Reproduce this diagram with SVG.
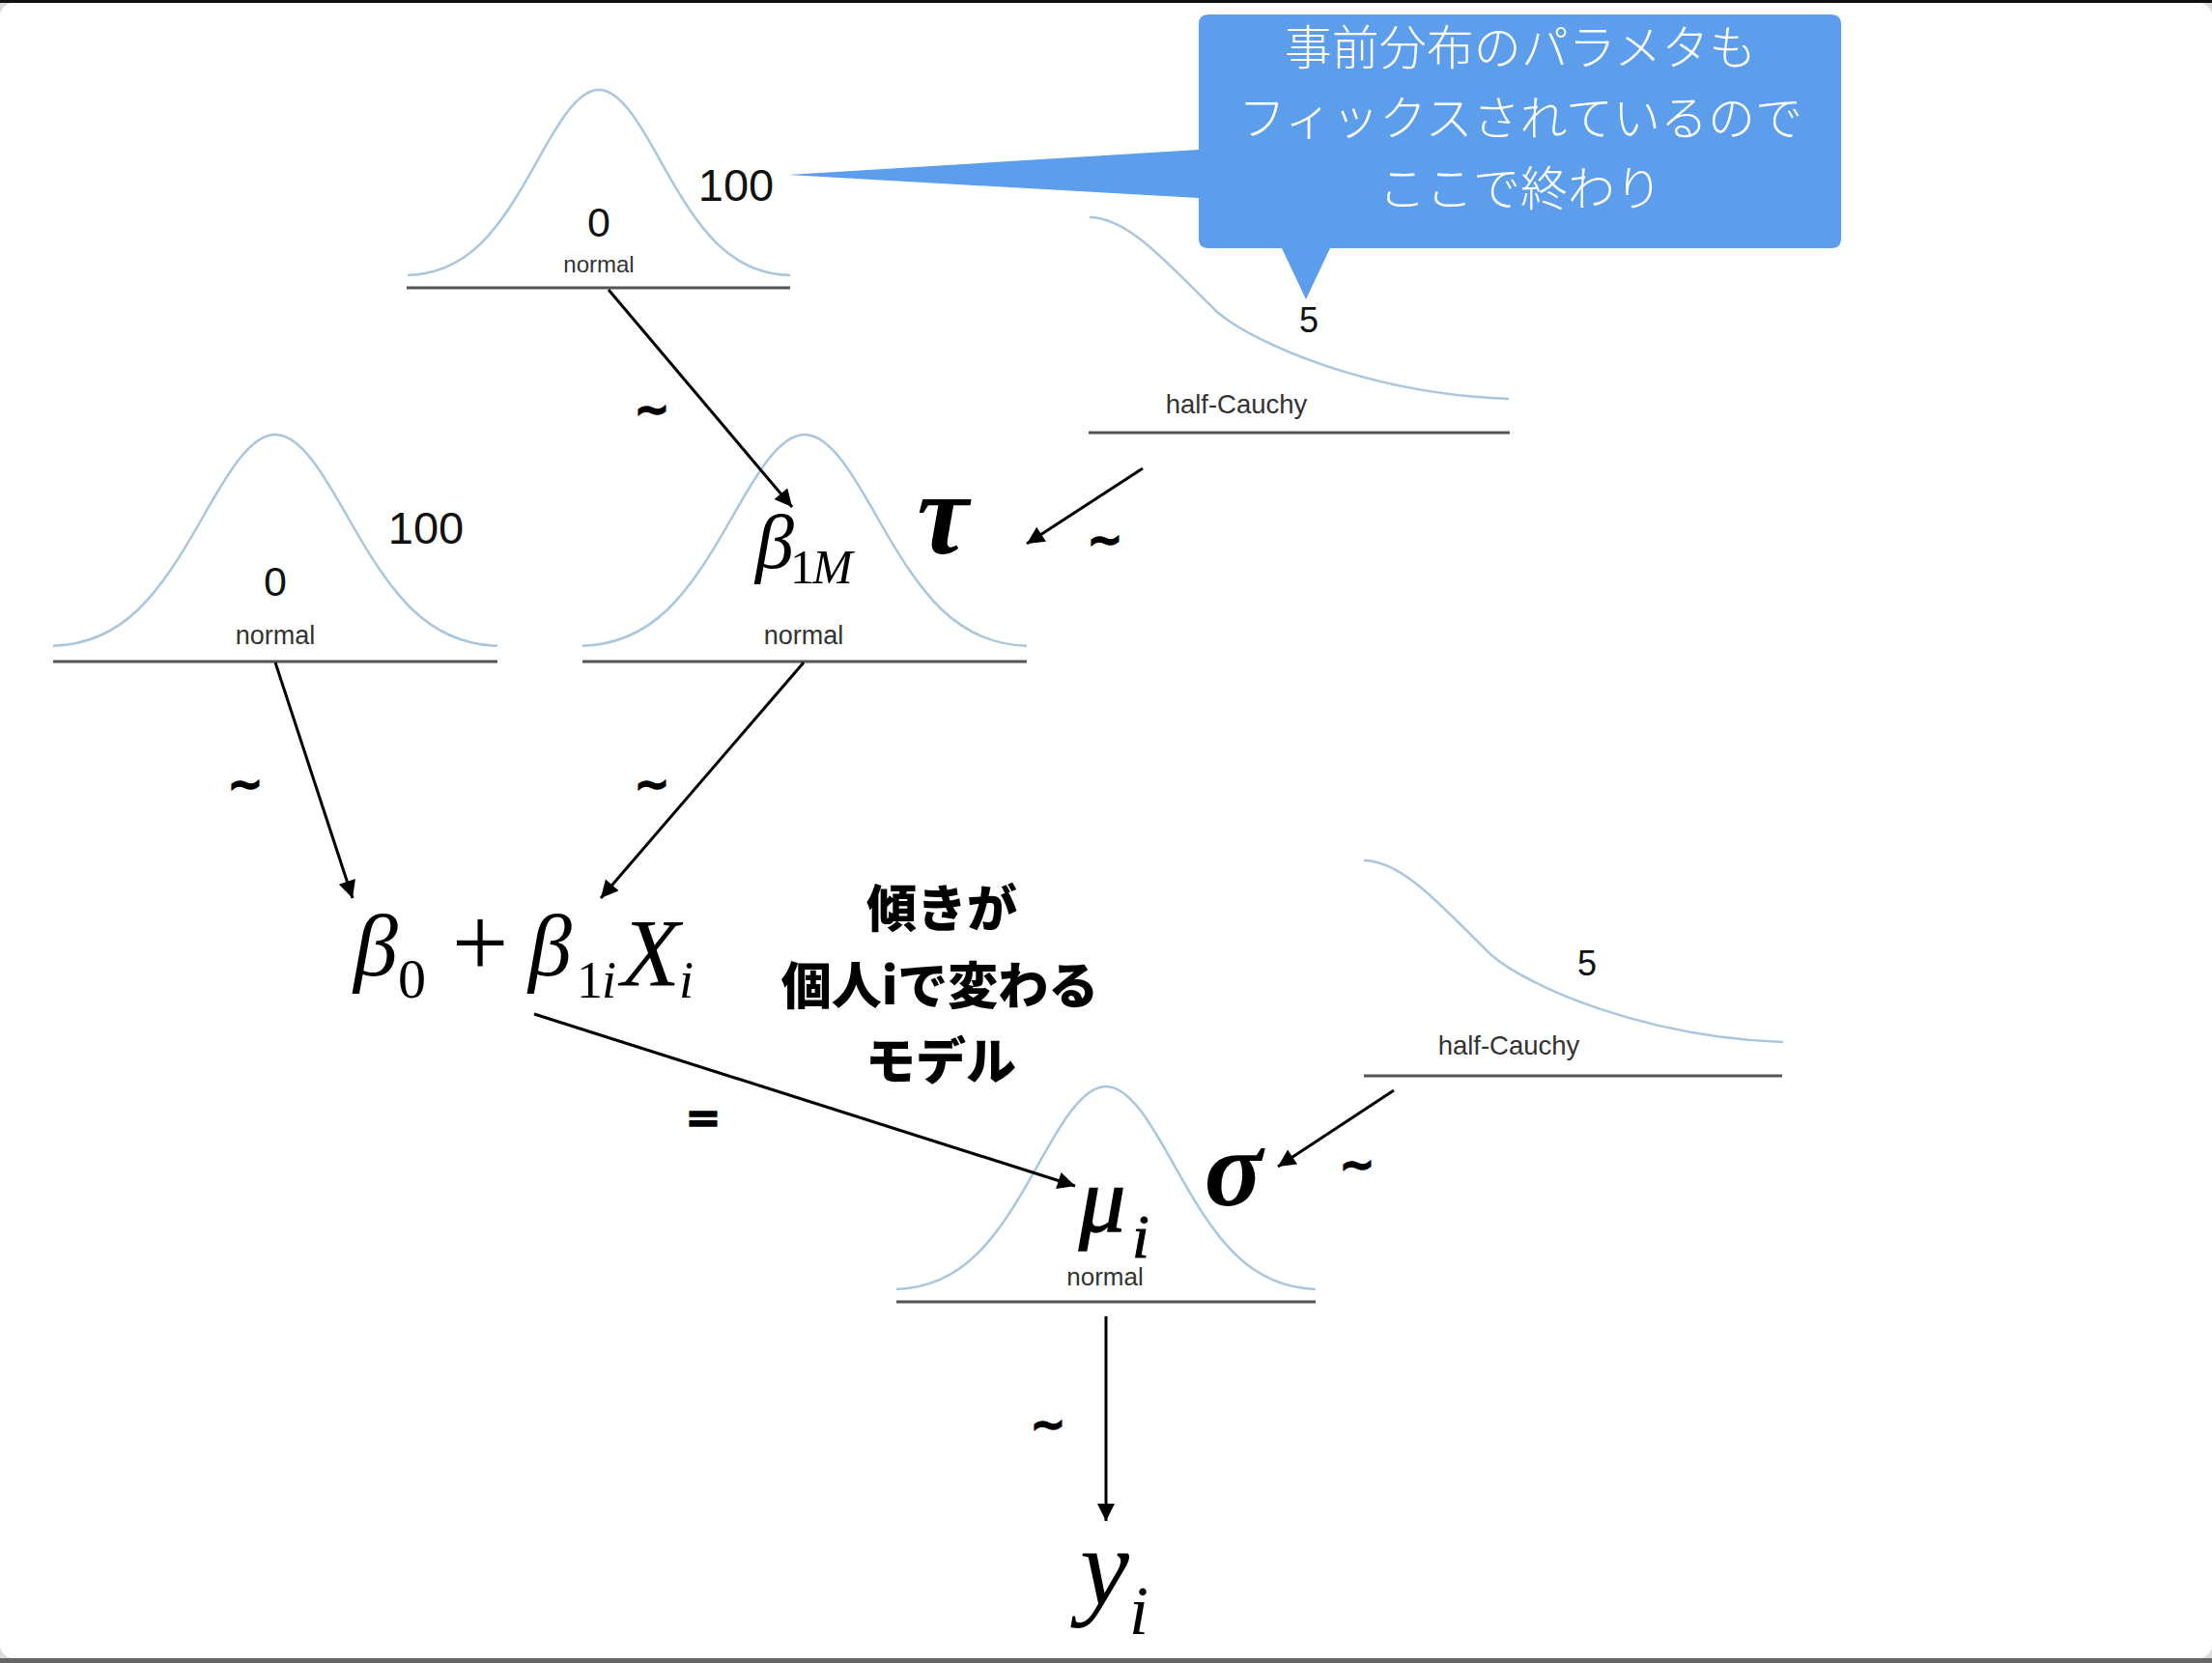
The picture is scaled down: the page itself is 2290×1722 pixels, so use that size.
<svg xmlns="http://www.w3.org/2000/svg" width="2290" height="1722" viewBox="0 0 2290 1722">
<defs>
<style>
.bell{fill:none;stroke:#a9c6dc;stroke-width:2.5}
.base{stroke:#555;stroke-width:3}
.num{font-family:"Liberation Sans",Arial,sans-serif;fill:#111;text-anchor:middle}
.dist{font-family:"Liberation Sans",Arial,sans-serif;fill:#333;text-anchor:middle}
.math{font-family:"Liberation Serif","Times New Roman",serif;font-style:italic;fill:#000}
.mathup{font-family:"Liberation Serif","Times New Roman",serif;fill:#000}
.mathb{font-family:"Liberation Serif","Times New Roman",serif;font-style:italic;font-weight:bold;fill:#000;text-anchor:middle}
.edge{stroke:#000;stroke-width:3;fill:none;marker-end:url(#arrow)}
.tilde{font-family:"DejaVu Sans",sans-serif;font-weight:bold;font-size:44px;text-anchor:middle;fill:#000;stroke:#000;stroke-width:1.5}
.jp{font-family:"Noto Sans CJK JP","Noto Sans",sans-serif;font-weight:900;font-size:52px;text-anchor:middle;fill:#000}
.call{font-family:"Noto Sans CJK JP","Noto Sans",sans-serif;font-weight:300;font-size:49px;text-anchor:middle;fill:#fff}
</style>
<marker id="arrow" viewBox="0 0 10 10" refX="10" refY="5" markerWidth="22" markerHeight="18" markerUnits="userSpaceOnUse" orient="auto">
<path d="M0,0 L10,5 L0,10 z" fill="#000"/>
</marker>
</defs>
<rect x="0" y="0" width="2290" height="1722" fill="#dcdcdc"/>
<rect x="0" y="0" width="2290" height="3" fill="#111"/>
<rect x="0" y="1717" width="2290" height="5" fill="#666"/>
<rect x="0" y="3" width="2290" height="1714" rx="14" fill="#fff"/>

<g id="node-prior-top">
<path class="bell" d="M422,285 C485.4,283.1 517,237.1 554.7,169.3 C576.4,130.1 597.2,93 620,93 C642.8,93 663.6,130.1 685.3,169.3 C723,237.1 754.6,283.1 818,285"/>
<line class="base" x1="421" y1="298" x2="818" y2="298"/>
<text class="num" x="620" y="245" font-size="43">0</text>
<text class="num" x="762" y="208" font-size="47">100</text>
<text class="dist" x="620" y="282" font-size="24">normal</text>
</g>

<g id="node-prior-tau">
<path class="bell" d="M1128,225 C1170,225 1215,280 1260,323 C1300,357 1420,408 1562,413"/>
<line class="base" x1="1127" y1="448" x2="1563" y2="448"/>
<text class="num" x="1355" y="344" font-size="36">5</text>
<text class="dist" x="1280" y="428" font-size="27.5">half-Cauchy</text>
</g>

<g id="node-prior-beta0">
<path class="bell" d="M55,668.8 C128.6,666.6 165.4,614.1 209.1,537 C234.4,492.2 258.5,450 285,450 C311.5,450 335.6,492.2 360.9,537 C404.6,614.1 441.4,666.6 515,668.8"/>
<line class="base" x1="55" y1="685" x2="515" y2="685"/>
<text class="num" x="285" y="617" font-size="43">0</text>
<text class="num" x="441" y="563" font-size="47">100</text>
<text class="dist" x="285" y="667" font-size="27">normal</text>
</g>

<g id="node-beta1M">
<path class="bell" d="M603,668.8 C676.6,666.6 713.4,614.1 757.1,537 C782.4,492.2 806.5,450 833,450 C859.5,450 883.6,492.2 908.9,537 C952.6,614.1 989.4,666.6 1063,668.8"/>
<line class="base" x1="603" y1="685" x2="1063" y2="685"/>
<text class="math" x="782" y="588" font-size="80">β</text>
<text class="mathup" x="818" y="604" font-size="50">1</text>
<text class="math" x="841" y="604" font-size="50">M</text>
<text class="dist" x="832" y="667" font-size="27">normal</text>
</g>

<g id="node-tau">
<text class="mathb" x="976" y="573" font-size="120">τ</text>
</g>

<g id="node-linear">
<text class="math" x="366" y="1010" font-size="92">β</text>
<text class="mathup" x="412" y="1033" font-size="58">0</text>
<text class="mathup" x="497" y="1011" font-size="104" text-anchor="middle">+</text>
<text class="math" x="547" y="1010" font-size="90">β</text>
<text class="mathup" x="597" y="1033" font-size="54">1</text>
<text class="math" x="623" y="1033" font-size="54">i</text>
<text class="math" x="643" y="1020" font-size="100">X</text>
<text class="math" x="703" y="1033" font-size="54">i</text>
</g>

<g id="note-model">
<text class="jp" x="975" y="960">傾きが</text>
<text class="jp" x="973" y="1040">個人iで変わる</text>
<text class="jp" x="974" y="1118">モデル</text>
</g>

<g id="node-mu">
<path class="bell" d="M928,1334.9 C997.4,1332.8 1032.2,1282.5 1073.4,1208.4 C1097.3,1165.5 1120,1125 1145,1125 C1170,1125 1192.7,1165.5 1216.6,1208.4 C1257.8,1282.5 1292.6,1332.8 1362,1334.9"/>
<line class="base" x1="928" y1="1348" x2="1362" y2="1348"/>
<text class="math" x="1117" y="1275" font-size="96" stroke="#000" stroke-width="1.5">μ</text>
<text class="math" x="1172" y="1302" font-size="64" stroke="#000" stroke-width="1">i</text>
<text class="dist" x="1144" y="1331" font-size="26">normal</text>
</g>

<g id="node-prior-sigma">
<path class="bell" d="M1412,891 C1454,891 1499,946 1544,989 C1584,1023 1704,1074 1846,1079"/>
<line class="base" x1="1412" y1="1114" x2="1845" y2="1114"/>
<text class="num" x="1643" y="1010" font-size="36">5</text>
<text class="dist" x="1562" y="1092" font-size="27.5">half-Cauchy</text>
</g>

<g id="node-sigma">
<text class="mathb" x="1277" y="1248" font-size="112">σ</text>
</g>

<g id="node-y">
<text class="math" x="1118" y="1662" font-size="115">y</text>
<text class="math" x="1169" y="1692" font-size="72">i</text>
</g>

<g id="callout">
<path d="M1251,15 H1896 Q1906,15 1906,25 V247 Q1906,257 1896,257 H1377 L1352,310 L1327,257 H1251 Q1241,257 1241,247 V205 L816,181 L1241,155 V25 Q1241,15 1251,15 Z" fill="#5c9eeb"/>
<text class="call" x="1574" y="67">事前分布のパラメタも</text>
<text class="call" x="1574" y="140">フィックスされているので</text>
<text class="call" x="1574" y="213">ここで終わり</text>
</g>

<g id="connectors">
<line class="edge" x1="630" y1="300" x2="820" y2="525"/>
<line class="edge" x1="1183" y1="485" x2="1063" y2="563"/>
<line class="edge" x1="285" y1="686" x2="365" y2="930"/>
<line class="edge" x1="832" y1="686" x2="622" y2="930"/>
<line class="edge" x1="553" y1="1050" x2="1113" y2="1228"/>
<line class="edge" x1="1443" y1="1129" x2="1323" y2="1208"/>
<line class="edge" x1="1145" y1="1363" x2="1145" y2="1575"/>
<text class="tilde" x="675" y="439">~</text>
<text class="tilde" x="1144" y="574">~</text>
<text class="tilde" x="254" y="827">~</text>
<text class="tilde" x="675" y="827">~</text>
<text class="tilde" x="1085" y="1490">~</text>
<text class="tilde" x="1405" y="1221">~</text>
<text class="tilde" x="728" y="1172" font-size="78px">=</text>
</g>
</svg>
